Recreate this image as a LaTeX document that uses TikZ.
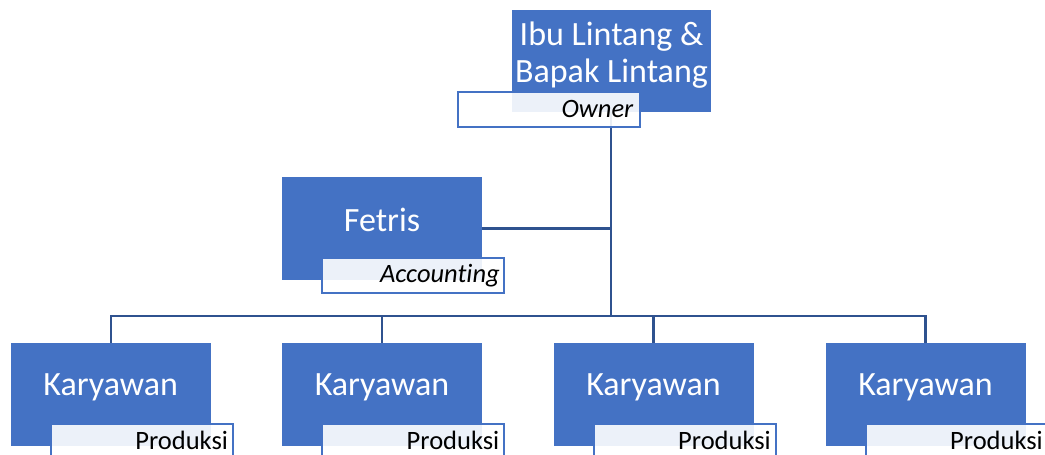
\documentclass[tikz,border=0pt]{standalone}
\usepackage{fontspec}
\setmainfont[Ligatures=NoCommon]{Carlito}
\pgfdeclarelayer{bg}
\pgfsetlayers{bg,main}
\definecolor{boxblue}{HTML}{4472C4}
\definecolor{linkblue}{HTML}{2F528F}
\tikzset{
  bluebox/.style={fill=boxblue, draw=none, minimum width=200pt, minimum height=102.5pt, inner sep=0pt},
  lblbox/.style={draw=boxblue, line width=2pt, fill=white, fill opacity=0.9, draw opacity=1, minimum width=182pt, minimum height=35pt, inner sep=0pt},
  bigtxt/.style={text=white, font=\fontsize{34}{37}\selectfont, inner sep=0pt, anchor=base, align=center},
  smalltxt/.style={text=black, font=\fontsize{26.5}{30}\selectfont, inner sep=0pt, anchor=base east},
  conn/.style={draw=linkblue, line width=2.2pt}
}
\begin{document}
\begin{tikzpicture}[x=1pt,y=-1pt]
\useasboundingbox (0,0) rectangle (1045,455);
\clip (0,0) rectangle (1045,455);
% top
\node[bluebox, minimum width=199pt, minimum height=102pt] (top) at (611.5,61) {};
\node[lblbox] (toplbl) at (549,109.8) {};
\node[bigtxt] (toptxt) at (611.5,82) {Ibu Lintang \&\\Bapak Lintang};
\node[smalltxt] (toplbltxt) at (633.5,117) {\itshape Owner};
% fetris
\node[bluebox, minimum height=103pt] (fetris) at (382,228.5) {};
\node[lblbox] (fetlbl) at (413,275.7) {};
\node[bigtxt] (fettxt) at (382,231.7) {Fetris};
\node[smalltxt] (fetlbltxt) at (500,282) {\itshape Accounting};
% karyawan
\foreach \i/\x in {1/110.7,2/382,3/653.5,4/925.5}{
  \node[bluebox] (k\i) at (\x,394.7) {};
  \node[lblbox] (k\i lbl) at (\x+31.3,441.5) {};
  \node[bigtxt] (k\i txt) at (\x,395.7) {Karyawan};
  \node[smalltxt] (k\i lbltxt) at (\x+117.5,449) {Produksi};
}
\coordinate (bus) at (611,316);
\begin{pgfonlayer}{bg}
  \draw[conn] (top.south -| bus) -- (bus);
  \draw[conn] (fetris.east) -- (fetris.east -| bus);
  \draw[conn] (k1.north) -- (k1.north |- bus) -- (k4.north |- bus) -- (k4.north);
  \draw[conn] (k2.north) -- (k2.north |- bus);
  \draw[conn] (k3.north) -- (k3.north |- bus);
\end{pgfonlayer}
\end{tikzpicture}
\end{document}
